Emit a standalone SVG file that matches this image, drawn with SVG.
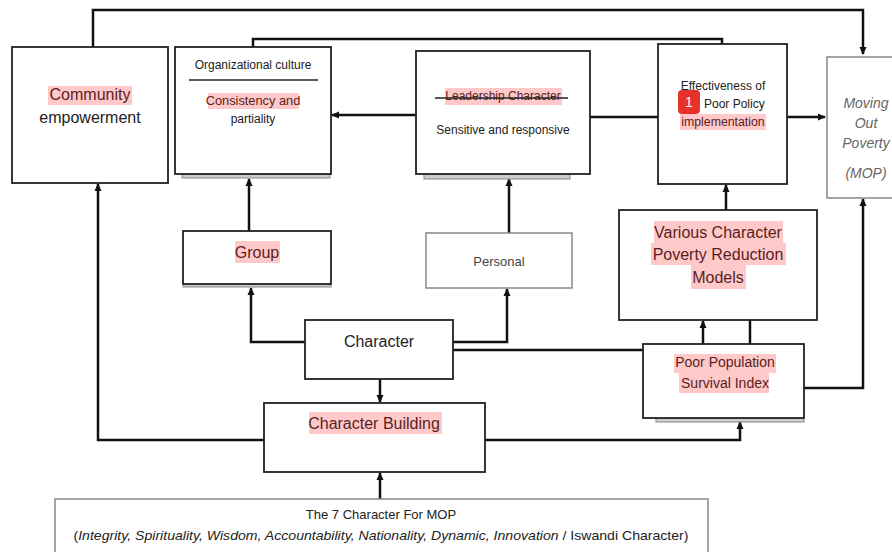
<svg xmlns="http://www.w3.org/2000/svg" width="892" height="552" viewBox="0 0 892 552">
<defs>
<marker id="ah" markerWidth="8" markerHeight="8" refX="7" refY="4" orient="auto" markerUnits="userSpaceOnUse"><path d="M0,0.5 L8,4 L0,7.5 Z" fill="#111"/></marker>
<style>
.box{fill:#fff;stroke:#222;stroke-width:1.8}
.gbox{fill:#fff;stroke:#888;stroke-width:1.5}
.shadow{fill:#ccc;stroke:#888;stroke-width:1}
.t{font-family:"Liberation Sans",Arial,sans-serif;fill:#222;text-anchor:middle}
.hl{fill:#ffc9c9}
.r{fill:#5a1e1e}
.c{fill:none;stroke:#111;stroke-width:2.5}
</style>
</defs>
<rect width="892" height="552" fill="#fff"/>

<g id="connectors">
<path class="c" d="M93,47 V10 H863 V54" marker-end="url(#ah)"/>
<path class="c" d="M722,44 V39 H253 V47"/>
<path class="c" d="M416,115 H332" marker-end="url(#ah)"/>
<path class="c" d="M590,117 H658"/>
<path class="c" d="M787,117 H825" marker-end="url(#ah)"/>
<path class="c" d="M249,231 V179" marker-end="url(#ah)"/>
<path class="c" d="M509,233 V179" marker-end="url(#ah)"/>
<path class="c" d="M726,210 V185" marker-end="url(#ah)"/>
<path class="c" d="M305,342 H251 V288" marker-end="url(#ah)"/>
<path class="c" d="M453,342 H507 V289" marker-end="url(#ah)"/>
<path class="c" d="M453,350 H643"/>
<path class="c" d="M703,344 V321" marker-end="url(#ah)"/>
<path class="c" d="M750,320 V344"/>
<path class="c" d="M804,388 H863 V199" marker-end="url(#ah)"/>
<path class="c" d="M380,379 V402" marker-end="url(#ah)"/>
<path class="c" d="M264,440 H98 V184" marker-end="url(#ah)"/>
<path class="c" d="M485,440 H740 V422" marker-end="url(#ah)"/>
<path class="c" d="M380,499 V473" marker-end="url(#ah)"/>
</g>

<g id="community">
<rect class="box" x="12" y="47" width="156" height="136"/>
<rect class="hl" x="48" y="86" width="84" height="19"/>
<text class="t r" x="90" y="100" font-size="16">Community</text>
<text class="t" x="90" y="123" font-size="16">empowerment</text>
</g>

<g id="org-culture">
<rect class="shadow" x="182" y="174" width="148" height="4"/>
<rect class="box" x="175" y="47" width="156" height="127"/>
<text class="t" x="253" y="69" font-size="12">Organizational culture</text>
<line x1="189" y1="80" x2="318" y2="80" stroke="#222" stroke-width="1.5"/>
<rect class="hl" x="208" y="93" width="91" height="16"/>
<text class="t r" x="253" y="105" font-size="12.8">Consistency and</text>
<text class="t" x="253" y="123" font-size="12">partiality</text>
</g>

<g id="leadership">
<rect class="shadow" x="424" y="174" width="146" height="5"/>
<rect class="box" x="416" y="51" width="174" height="123"/>
<rect class="hl" x="445" y="88" width="117" height="17"/>
<text class="t r" x="503" y="100" font-size="12">Leadership Character</text>
<line x1="435" y1="98" x2="568" y2="98" stroke="#222" stroke-width="1.3"/>
<text class="t" x="503" y="134" font-size="12">Sensitive and responsive</text>
</g>

<g id="effectiveness">
<rect class="box" x="658" y="44" width="129" height="140"/>
<text class="t" x="723" y="90" font-size="12">Effectiveness of</text>
<text class="t" x="704" y="108" font-size="12" style="text-anchor:start">Poor Policy</text>
<rect class="hl" x="680" y="114" width="86" height="16"/>
<text class="t r" x="723" y="126" font-size="12.3">implementation</text>
<rect x="678" y="90" width="22" height="24" rx="4" fill="#e8302c"/>
<text class="t" x="689" y="107" font-size="14" style="fill:#fff">1</text>
</g>

<g id="mop">
<rect class="gbox" x="827" y="57" width="70" height="141"/>
<g class="t" font-size="14" font-style="italic" style="fill:#666">
<text x="866" y="108">Moving</text>
<text x="866" y="128">Out</text>
<text x="866" y="148">Poverty</text>
<text x="866" y="178">(MOP)</text>
</g>
</g>

<g id="group">
<rect class="shadow" x="183" y="284" width="148" height="3"/>
<rect class="box" x="183" y="231" width="148" height="53"/>
<rect class="hl" x="235" y="241" width="45" height="22"/>
<text class="t r" x="257" y="258" font-size="16">Group</text>
</g>

<g id="personal">
<rect class="gbox" x="426" y="233" width="146" height="55"/>
<text class="t" x="499" y="266" font-size="13" style="fill:#444">Personal</text>
</g>

<g id="various">
<rect class="box" x="619" y="210" width="198" height="110"/>
<rect class="hl" x="654" y="221" width="129" height="22"/>
<rect class="hl" x="651" y="243" width="135" height="22"/>
<rect class="hl" x="691" y="265" width="55" height="24"/>
<text class="t r" x="718" y="238" font-size="16">Various Character</text>
<text class="t r" x="718" y="260" font-size="16">Poverty Reduction</text>
<text class="t r" x="718" y="283" font-size="16">Models</text>
</g>

<g id="character">
<rect class="box" x="305" y="320" width="148" height="59"/>
<text class="t" x="379" y="347" font-size="16">Character</text>
</g>

<g id="poor-population">
<rect class="shadow" x="656" y="418" width="148" height="4"/>
<rect class="box" x="643" y="344" width="161" height="74"/>
<rect class="hl" x="674" y="354" width="102" height="19"/>
<rect class="hl" x="679" y="373" width="90" height="20"/>
<text class="t r" x="725" y="367" font-size="14">Poor Population</text>
<text class="t r" x="725" y="388" font-size="14">Survival Index</text>
</g>

<g id="character-building">
<rect class="box" x="264" y="403" width="221" height="69"/>
<rect class="hl" x="309" y="412" width="133" height="22"/>
<text class="t r" x="374" y="429" font-size="16">Character Building</text>
</g>

<g id="seven-character">
<rect class="gbox" x="55" y="499" width="653" height="60"/>
<text class="t" x="381" y="519" font-size="13">The 7 Character For MOP</text>
<text class="t" x="381" y="540" font-size="13" textLength="615" lengthAdjust="spacingAndGlyphs">(<tspan font-style="italic">Integrity, Spirituality, Wisdom, Accountability, Nationality, Dynamic, Innovation</tspan> /  Iswandi Character)</text>
</g>
</svg>
